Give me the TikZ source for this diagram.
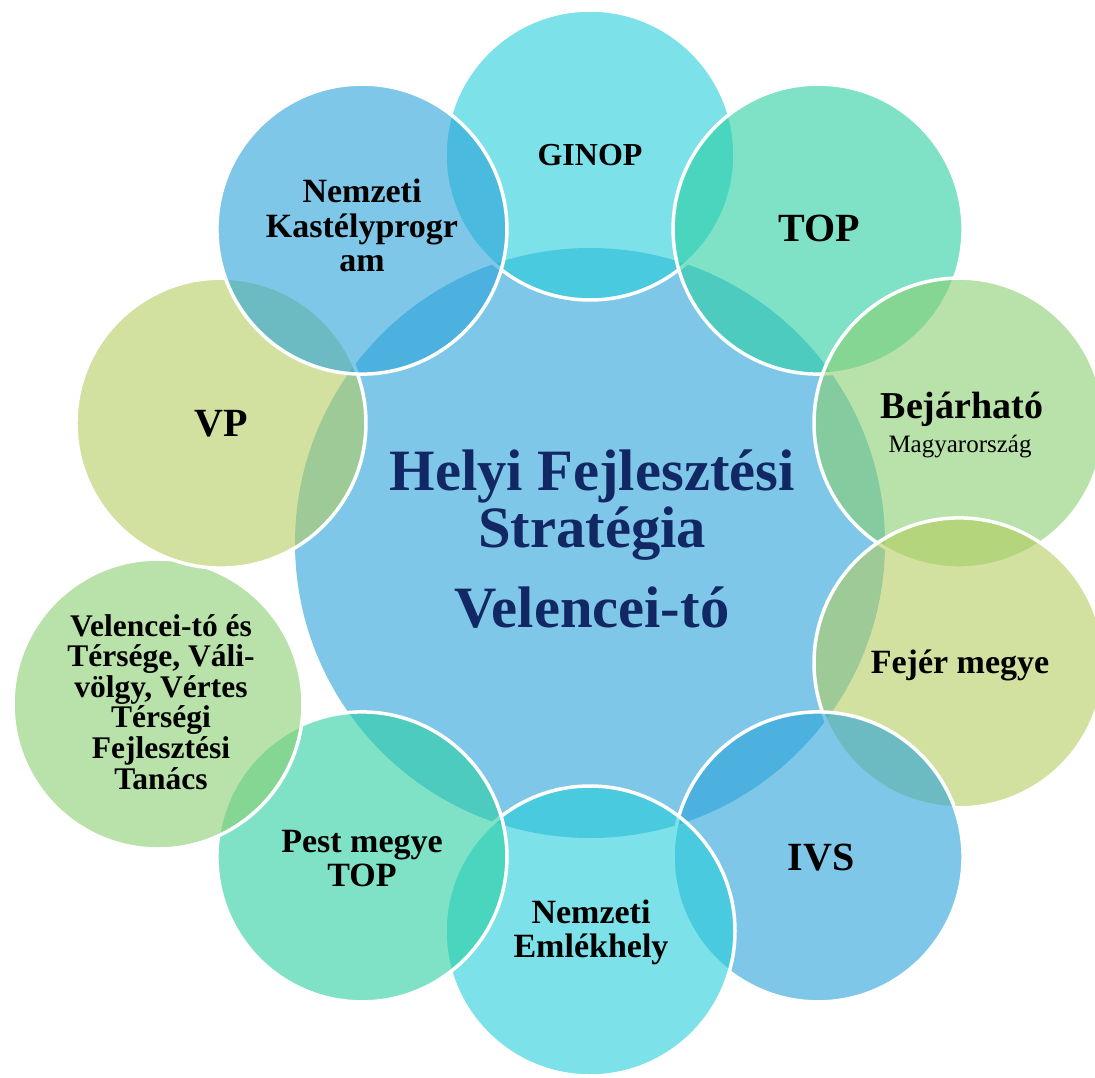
\documentclass[tikz,border=0pt]{standalone}
\usepackage{fontspec}
\setmainfont{Liberation Serif}
\definecolor{hubblue}{RGB}{42,163,217}
\definecolor{cyanish}{RGB}{38,205,217}
\definecolor{aqua}{RGB}{42,207,163}
\definecolor{leaf}{RGB}{138,207,113}
\definecolor{moss}{RGB}{180,205,97}
\definecolor{titlenavy}{RGB}{18,40,100}
\newcommand{\fsz}[2]{\fontsize{#1}{#2}\selectfont}

\begin{document}
\begin{tikzpicture}[x=1pt,y=-1pt,
  disc/.style={fill opacity=.6},
  rim/.style={white,line width=3.5pt},
  lbl/.style={anchor=base,align=center,font=\bfseries\fsz{34}{34}}]
\useasboundingbox (0,0) rectangle (1095,1078);
\fill[white] (0,0) rectangle (1095,1078);
% centre and satellites
\coordinate (hub) at (590,543);
\coordinate (none) at (-600,-600);
\coordinate (ginop) at ([shift={(90:388pt)}]hub);
\coordinate (top) at ([shift={(54:388pt)}]hub);
\coordinate (bejar) at ([shift={(18:388pt)}]hub);
\coordinate (fejer) at ([shift={(-18:388pt)}]hub);
\coordinate (ivs) at ([shift={(-54:388pt)}]hub);
\coordinate (emlek) at ([shift={(-90:388pt)}]hub);
\coordinate (pest) at ([shift={(-126:388pt)}]hub);
\coordinate (velence) at (158,704);
\coordinate (vp) at ([shift={(162:388pt)}]hub);
\coordinate (kastely) at ([shift={(126:388pt)}]hub);
\fill[hubblue,disc] (hub) circle[radius=295pt];
\foreach \c/\col/\u/\v in {ginop/cyanish/top/kastely, top/aqua/bejar/none,
    bejar/leaf/fejer/none, fejer/moss/ivs/none, ivs/hubblue/emlek/none,
    emlek/cyanish/pest/none, pest/aqua/velence/none, velence/leaf/vp/none,
    vp/moss/kastely/none, kastely/hubblue/none/none}{
  \fill[\col,disc] (\c) circle[radius=145pt];
  \begin{scope}
    \clip (0,0) rectangle (1095,1078) (\u) circle[radius=145pt] (\v) circle[radius=145pt];
    \draw[rim] (\c) circle[radius=145pt];
  \end{scope}
}
% labels (base = last line)
\node[lbl,font=\bfseries\fsz{32}{32}] (t-ginop) at (590,166) {GINOP};
\node[lbl,font=\bfseries\fsz{40}{40}] (t-top) at (819,242) {TOP};
\node[lbl,font=\bfseries\fsz{38}{38}] (t-bejar) at (962,418) {Bejárható};
\node[lbl,font=\fsz{25}{25}] (t-magyar) at (960,452) {Magyarország};
\node[lbl] (t-fejer) at (960,673) {Fejér megye};
\node[lbl,font=\bfseries\fsz{40}{40}] (t-ivs) at (821,870) {IVS};
\node[lbl] (t-emlek) at (591,957) {Nemzeti\\Emlékhely};
\node[lbl] (t-pest) at (362,886) {Pest megye\\TOP};
\node[lbl,font=\bfseries\fsz{31.5}{30.6}] (t-velence) at (161,789)
  {Velencei-tó és\\Térsége, Váli-\\völgy, Vértes\\Térségi\\Fejlesztési\\Tanács};
\node[lbl,font=\bfseries\fsz{40}{40}] (t-vp) at (221,436) {VP};
\node[lbl,font=\bfseries\fsz{34}{35}] (t-kastely) at (362,272) {Nemzeti\\Kastélyprogr\\am};
\node[lbl,text=titlenavy,font=\bfseries\fsz{58.6}{57}] (t-title) at (592,627)
  {Helyi Fejlesztési\\Stratégia\\[23pt]Velencei-tó};
\end{tikzpicture}
\end{document}
